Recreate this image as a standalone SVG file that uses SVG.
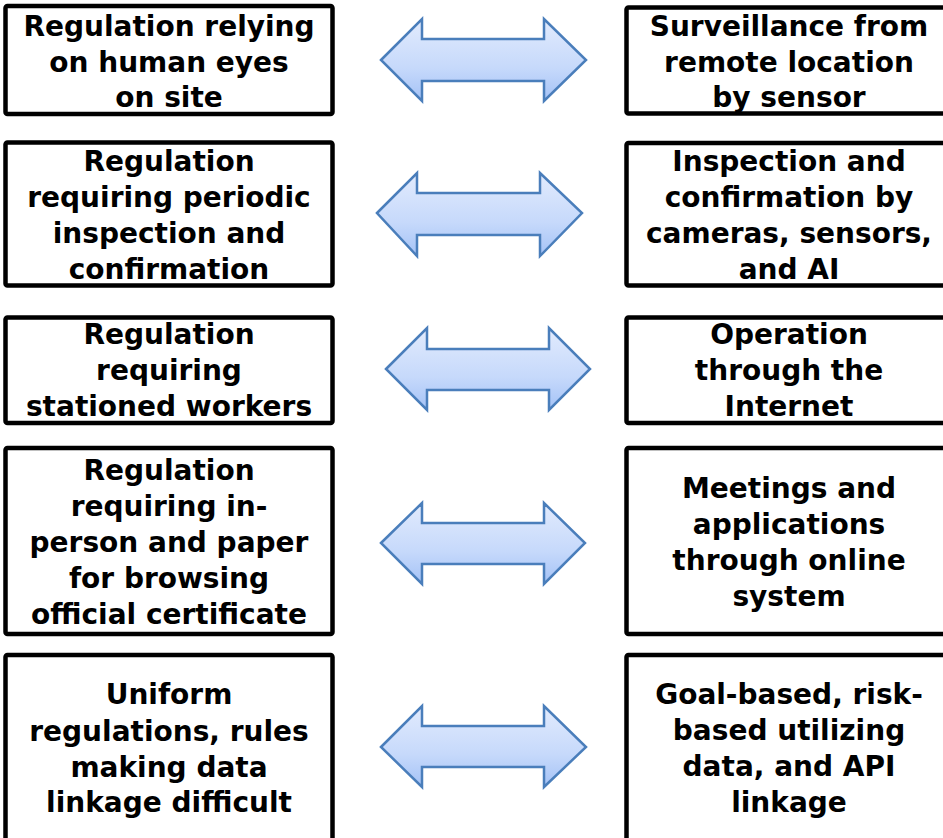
<svg xmlns="http://www.w3.org/2000/svg" width="943" height="838" viewBox="0 0 943 838">
<style>
.box{fill:#fff;stroke:#000;stroke-width:4.5}
.t{font-family:"DejaVu Sans",Verdana,sans-serif;font-weight:bold;font-size:28px;fill:#000;text-anchor:middle}
.arr{fill:url(#g);stroke:#4a7ebb;stroke-width:2.5;stroke-linejoin:miter}
</style>
<defs>
<linearGradient id="g" x1="0" y1="0" x2="0" y2="1">
<stop offset="0" stop-color="#e2ebfd"/>
<stop offset="0.6" stop-color="#c6d9fb"/>
<stop offset="1" stop-color="#a4c2f6"/>
</linearGradient>
</defs>
<rect width="943" height="838" fill="#fff"/>

<g id="left1"><rect class="box" x="5.5" y="6" width="327" height="108" rx="2"/>
<text class="t" x="169" y="36">Regulation relying</text><text class="t" x="169" y="72">on human eyes</text><text class="t" x="169" y="107">on site</text></g>
<g id="left2"><rect class="box" x="5.5" y="142.5" width="327" height="143" rx="2"/>
<text class="t" x="169" y="171">Regulation</text><text class="t" x="169" y="207">requiring periodic</text><text class="t" x="169" y="243">inspection and</text><text class="t" x="169" y="279">confirmation</text></g>
<g id="left3"><rect class="box" x="5.5" y="317.5" width="327" height="105.5" rx="2"/>
<text class="t" x="169" y="344">Regulation</text><text class="t" x="169" y="380">requiring</text><text class="t" x="169" y="416">stationed workers</text></g>
<g id="left4"><rect class="box" x="5.5" y="448" width="327" height="186" rx="2"/>
<text class="t" x="169" y="480">Regulation</text><text class="t" x="169" y="516">requiring in-</text><text class="t" x="169" y="552">person and paper</text><text class="t" x="169" y="588">for browsing</text><text class="t" x="169" y="624">official certificate</text></g>
<g id="left5"><rect class="box" x="5.5" y="655" width="327" height="200" rx="2"/>
<text class="t" x="169" y="704">Uniform</text><text class="t" x="169" y="741">regulations, rules</text><text class="t" x="169" y="777">making data</text><text class="t" x="169" y="812">linkage difficult</text></g>

<g id="right1"><rect class="box" x="626.5" y="7.5" width="330" height="106" rx="2"/>
<text class="t" x="789" y="36">Surveillance from</text><text class="t" x="789" y="72">remote location</text><text class="t" x="789" y="107">by sensor</text></g>
<g id="right2"><rect class="box" x="626.5" y="143" width="330" height="142.5" rx="2"/>
<text class="t" x="789" y="171">Inspection and</text><text class="t" x="789" y="207">confirmation by</text><text class="t" x="789" y="243">cameras, sensors,</text><text class="t" x="789" y="279">and AI</text></g>
<g id="right3"><rect class="box" x="626.5" y="317.5" width="330" height="105.5" rx="2"/>
<text class="t" x="789" y="344">Operation</text><text class="t" x="789" y="380">through the</text><text class="t" x="789" y="416">Internet</text></g>
<g id="right4"><rect class="box" x="626.5" y="448" width="330" height="186" rx="2"/>
<text class="t" x="789" y="498">Meetings and</text><text class="t" x="789" y="534">applications</text><text class="t" x="789" y="570">through online</text><text class="t" x="789" y="606">system</text></g>
<g id="right5"><rect class="box" x="626.5" y="655" width="330" height="200" rx="2"/>
<text class="t" x="789" y="704">Goal-based, risk-</text><text class="t" x="789" y="740">based utilizing</text><text class="t" x="789" y="776">data, and API</text><text class="t" x="789" y="812">linkage</text></g>

<g id="connectors">
<path class="arr" d="M381,60 L422,19 L422,39 L544,39 L544,19 L586,60 L544,101 L544,81 L422,81 L422,101 Z"/>
<path class="arr" d="M377,213 L417,173 L417,193 L540,193 L540,173 L582,213 L540,256 L540,235 L417,235 L417,256 Z"/>
<path class="arr" d="M386,369 L427,328 L427,349 L549,349 L549,328 L590,369 L549,410 L549,390 L427,390 L427,410 Z"/>
<path class="arr" d="M381,543 L422,503 L422,523 L544,523 L544,503 L585,543 L544,584 L544,564 L422,564 L422,584 Z"/>
<path class="arr" d="M381,747 L422,706 L422,726 L544,726 L544,706 L586,747 L544,787 L544,767 L422,767 L422,787 Z"/>
</g>
</svg>
